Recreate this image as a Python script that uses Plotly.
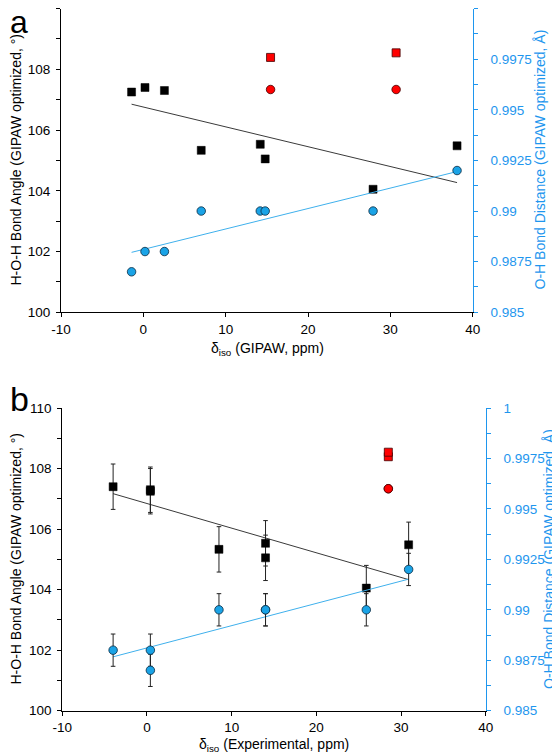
import plotly.graph_objects as go

# page is 560x756; the html body adds an 8px margin, so the figure is drawn 8px in
PAGE_W, PAGE_H = 560, 756
OFF = 8
W, H = PAGE_W - OFF, PAGE_H - OFF

# ---------------- data ----------------
# GIPAW-optimized values per site
angle = [107.25, 107.4, 107.3, 105.33, 105.53, 105.05, 104.05, 105.48]
dist = [0.987, 0.988, 0.988, 0.990, 0.990, 0.990, 0.990, 0.992]
# panel a: GIPAW chemical shift
shift_gipaw = [-1.43, 0.2, 2.56, 7.03, 14.2, 14.8, 27.9, 38.1]
# panel b: experimental chemical shift
shift_exp = [0.4, -4.0, 0.4, 8.5, 14.0, 14.0, 25.9, 30.9]
angle_err = [0.75] * 8
dist_err = [0.0008] * 8

# outliers (red)
red_shift_gipaw = [15.45, 30.7]
red_shift_exp = [28.5, 28.5]
red_angle = [108.39, 108.54]
red_dist = [0.996, 0.996]

# trend lines (endpoints)
trend_a_x = [-1.43, 38.1]
trend_a_angle = [106.85, 104.27]
trend_a_dist = [0.98796, 0.99195]
trend_b_x = [-4.0, 30.9]
trend_b_angle = [107.17, 104.33]
trend_b_dist = [0.98767, 0.99152]

x_tickvals = [-10, 0, 10, 20, 30, 40]
x_ticktext = ["-10", "0", "10", "20", "30", "40"]
left_tickvals = [100, 101, 102, 103, 104, 105, 106, 107, 108, 109, 110]
left_ticktext = ["100", " ", "102", " ", "104", " ", "106", " ", "108", " ", "110"]
right_tickvals = [0.985, 0.98625, 0.9875, 0.98875, 0.99, 0.99125, 0.9925,
                  0.99375, 0.995, 0.99625, 0.9975, 0.99875, 1.0]
right_ticktext = ["0.985", " ", "0.9875", " ", "0.99", " ", "0.9925",
                  " ", "0.995", " ", "0.9975", " ", "1"]

# ---------------- style ----------------
FONT = "Arial, Liberation Sans, sans-serif"
BLUE_AX = "#1E96EE"
BLUE_PT = "#1AA3E6"
BLUE_LN = "#3FB0EC"
RED = "#FF0000"

def clamp(v):
    return max(0.0, min(1.0, v))

def px_x(p):
    return (p - OFF) / W

def px_y(p):
    return 1 - (p - OFF) / H

fig = go.Figure()

def add_panel(xs, xa, ya_l, ya_r, red_x, tx, t_ang, t_dist, errors):
    fig.add_trace(go.Scatter(x=tx, y=t_ang, mode="lines", xaxis=xa, yaxis=ya_l,
                             line=dict(color="#3a3a3a", width=1), showlegend=False, hoverinfo="skip"))
    fig.add_trace(go.Scatter(x=tx, y=t_dist, mode="lines", xaxis=xa, yaxis=ya_r,
                             line=dict(color=BLUE_LN, width=1), showlegend=False, hoverinfo="skip"))
    ekw_a = dict(type="data", array=angle_err, visible=True, color="#222", thickness=1, width=2.3) if errors else None
    ekw_d = dict(type="data", array=dist_err, visible=True, color="#222", thickness=1, width=2.3) if errors else None
    fig.add_trace(go.Scatter(x=xs, y=dist, mode="markers", xaxis=xa, yaxis=ya_r,
                             marker=dict(symbol="circle", size=8.5, color=BLUE_PT,
                                         line=dict(color="#0a2a40", width=0.8)),
                             error_y=ekw_d, showlegend=False))
    fig.add_trace(go.Scatter(x=xs, y=angle, mode="markers", xaxis=xa, yaxis=ya_l,
                             marker=dict(symbol="square", size=8, color="black",
                                         line=dict(color="black", width=0.5)),
                             error_y=ekw_a, showlegend=False))
    fig.add_trace(go.Scatter(x=red_x, y=red_angle, mode="markers", xaxis=xa, yaxis=ya_l,
                             marker=dict(symbol="square", size=8, color=RED,
                                         line=dict(color="#400000", width=0.8)),
                             showlegend=False))
    fig.add_trace(go.Scatter(x=red_x, y=red_dist, mode="markers", xaxis=xa, yaxis=ya_r,
                             marker=dict(symbol="circle", size=8.5, color=RED,
                                         line=dict(color="#400000", width=0.8)),
                             showlegend=False))

add_panel(shift_gipaw, "x", "y", "y2", red_shift_gipaw, trend_a_x, trend_a_angle, trend_a_dist, False)
add_panel(shift_exp, "x2", "y3", "y4", red_shift_exp, trend_b_x, trend_b_angle, trend_b_dist, True)

tickfont = dict(family=FONT, size=13.5, color="black")
bluefont = dict(family=FONT, size=13.5, color=BLUE_AX)

def xaxis_cfg(dom, anchor):
    return dict(domain=dom, anchor=anchor, range=[-10, 40], tickmode="array",
                tickvals=x_tickvals, ticktext=x_ticktext,
                showline=True, linecolor="black", linewidth=1.2, ticks="outside",
                ticklen=4, tickcolor="black", tickwidth=1, showgrid=False, zeroline=False,
                tickfont=tickfont, automargin=False)

def yl_cfg(dom, anchor):
    return dict(domain=dom, anchor=anchor, range=[100, 110], tickmode="array",
                tickvals=left_tickvals, ticktext=left_ticktext,
                showline=True, linecolor="black", linewidth=1.2, ticks="outside",
                ticklen=4, tickcolor="black", tickwidth=1, showgrid=False, zeroline=False,
                tickfont=tickfont, ticklabelstandoff=3, automargin=False)

def yr_cfg(over, anchor):
    return dict(overlaying=over, anchor=anchor, side="right", range=[0.985, 1.0],
                tickmode="array", tickvals=right_tickvals, ticktext=right_ticktext,
                showline=True, linecolor=BLUE_AX, linewidth=1.2, ticks="outside",
                ticklen=4, tickcolor=BLUE_AX, tickwidth=1, showgrid=False, zeroline=False,
                tickfont=bluefont, ticklabelstandoff=10, automargin=False)

top_x = [clamp(px_x(61)), clamp(px_x(472.7))]
top_y = [clamp(px_y(312.3)), clamp(px_y(8.5))]
bot_x = [clamp(px_x(62.3)), clamp(px_x(485.7))]
bot_y = [clamp(px_y(710.7)), clamp(px_y(408))]

fig.update_layout(
    width=W, height=H, margin=dict(l=0, r=0, t=0, b=0, autoexpand=False),
    paper_bgcolor="white", plot_bgcolor="white", showlegend=False,
    font=dict(family=FONT, size=13.5, color="black"),
    xaxis=xaxis_cfg(top_x, "y"),
    yaxis=yl_cfg(top_y, "x"),
    yaxis2=yr_cfg("y", "x"),
    xaxis2=xaxis_cfg(bot_x, "y3"),
    yaxis3=yl_cfg(bot_y, "x2"),
    yaxis4=yr_cfg("y3", "x2"),
)

ann = []
def add_text(text, xp, yp, size=14, color="black", angle=0, xanchor="center", yanchor="middle"):
    ann.append(dict(text=text, x=px_x(xp), y=px_y(yp), xref="paper", yref="paper",
                    showarrow=False, textangle=angle, xanchor=xanchor, yanchor=yanchor,
                    font=dict(family=FONT, size=size, color=color)))

# axis titles (page pixel positions)
add_text("δ<sub>iso</sub> (GIPAW, ppm)", 267, 349)
add_text("δ<sub>iso</sub> (Experimental, ppm)", 274, 745)
add_text("H-O-H Bond Angle (GIPAW optimized, °)", 15.5, 160, angle=-90)
add_text("H-O-H Bond Angle (GIPAW optimized, °)", 15.5, 559, angle=-90)
add_text("O-H Bond Distance (GIPAW optimized, Å)", 539.5, 160, color=BLUE_AX, angle=-90)
add_text("O-H Bond Distance (GIPAW optimized, Å)", 549, 559, color=BLUE_AX, angle=-90)
# panel labels
add_text("a", 8, 22, size=32, xanchor="left")
add_text("b", 8, 399, size=34, xanchor="left")

fig.update_layout(annotations=ann)
fig.write_html("out.html")
